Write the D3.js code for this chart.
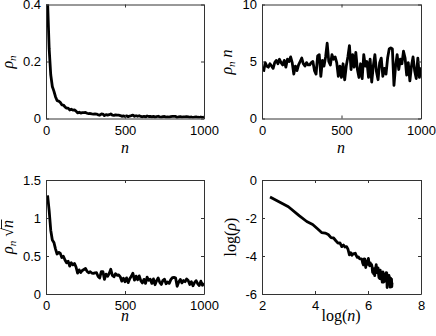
<!DOCTYPE html>
<html><head><meta charset="utf-8">
<script src="https://cdn.jsdelivr.net/npm/d3@7"></script>
<style>
html,body{margin:0;padding:0;background:#fff;}
svg{display:block;}
.tick text{font-family:"Liberation Sans",Arial,sans-serif;font-size:13px;fill:#000;}
.lab{font-family:"Liberation Serif","DejaVu Serif",serif;font-size:16px;fill:#000;}
</style>
</head><body>
<svg id="c" width="436" height="336"></svg>
<script>
// n values (sample index)
const nVals = [10,20,30,40,50,60,70,80,90,100,110,120,130,140,150,160,170,180,190,200,
210,220,230,240,250,260,270,280,290,300,310,320,330,340,350,360,370,380,390,400,
410,420,430,440,450,460,470,480,490,500,510,520,530,540,550,560,570,580,590,600,
610,620,630,640,650,660,670,680,690,700,710,720,730,740,750,760,770,780,790,800,
810,820,830,840,850,860,870,880,890,900,910,920,930,940,950,960,970,980,990,1000];
// rho_n * n
const rhoTimesN = [4.1,4.9,4.6,4.5,4.8,4.6,4.4,4.9,5.1,4.8,5.2,4.9,4.7,5.1,4.5,5.2,5.0,5.4,4.9,3.9,
4.6,4.2,4.7,5.0,5.3,4.8,4.6,4.9,4.7,4.7,4.9,5.0,4.2,3.9,5.5,5.6,3.7,5.1,4.6,5.4,
6.6,5.0,4.7,5.6,5.2,5.4,4.9,3.7,4.6,3.6,4.8,3.4,4.6,5.4,6.4,4.3,5.6,4.5,5.8,4.3,
3.6,4.8,3.5,5.6,4.6,5.0,3.6,5.2,3.2,4.6,5.6,4.1,3.4,4.9,5.3,3.7,4.4,3.9,5.3,6.1,
6.2,6.1,2.9,4.6,5.6,4.3,5.2,4.8,5.9,5.3,3.8,4.9,3.3,4.6,5.4,4.2,3.5,5.3,3.6,4.5];

// tick values
const xTicksN = [0,500,1000];
const yTicksRho = [0,0.2,0.4];
const yTicksRhoN = [0,5,10];
const yTicksRhoSqrt = [0,0.5,1,1.5];
const xTicksLog = [2,4,6,8];
const yTicksLog = [-6,-4,-2,0];

const svg = d3.select("#c");
const L = {x:[46,204], x2:[262,421], y:[4.5,118.5], y2:[180,294]};

const rhoSeries = nVals.map((n,i)=>({x:n, y:rhoTimesN[i]/n}));
const rhoNSeries = nVals.map((n,i)=>({x:n, y:rhoTimesN[i]}));
const rhoSqrtSeries = nVals.map((n,i)=>({x:n, y:rhoTimesN[i]/Math.sqrt(n)}));
const logSeries = nVals.map((n,i)=>({x:Math.log(n), y:Math.log(rhoTimesN[i]/n)}));

const fmt = d => String(d);

function panel(id, xr, yr, xdom, ydom, xt, yt, data){
  const x = d3.scaleLinear().domain(xdom).range(xr);
  const y = d3.scaleLinear().domain(ydom).range([yr[1], yr[0]]);
  const g = svg.append("g");
  g.append("clipPath").attr("id","clip"+id).append("rect")
    .attr("x",xr[0]).attr("y",yr[0]).attr("width",xr[1]-xr[0]).attr("height",yr[1]-yr[0]);
  g.append("path").datum(data)
    .attr("clip-path","url(#clip"+id+")")
    .attr("fill","none").attr("stroke","#000").attr("stroke-width",2.8)
    .attr("stroke-linejoin","round")
    .attr("d", d3.line().x(d=>x(d.x)).y(d=>y(d.y)));
  const styleAxis = a => {
    a.selectAll(".domain").attr("stroke","#333").attr("stroke-width",1);
    a.selectAll(".tick line").attr("stroke","#333");
  };
  g.append("g").attr("transform",`translate(0,${yr[1]})`)
    .call(d3.axisBottom(x).tickValues(xt).tickFormat(fmt).tickSizeInner(-3).tickSizeOuter(0).tickPadding(7))
    .call(styleAxis).call(a=>a.selectAll("text").attr("font-family",null).attr("font-size",null));
  g.append("g").attr("transform",`translate(0,${yr[0]})`)
    .call(d3.axisTop(x).tickValues(xt).tickFormat("").tickSizeInner(-3).tickSizeOuter(0))
    .call(styleAxis);
  g.append("g").attr("transform",`translate(${xr[0]},0)`)
    .call(d3.axisLeft(y).tickValues(yt).tickFormat(fmt).tickSizeInner(-3).tickSizeOuter(0).tickPadding(5))
    .call(styleAxis).call(a=>a.selectAll("text").attr("font-family",null).attr("font-size",null));
  g.append("g").attr("transform",`translate(${xr[1]},0)`)
    .call(d3.axisRight(y).tickValues(yt).tickFormat("").tickSizeInner(-3).tickSizeOuter(0))
    .call(styleAxis);
  svg.selectAll(".tick text").attr("fill","#000");
  return {x,y};
}

panel("a", L.x, L.y, [0,1000], [0,0.4], xTicksN, yTicksRho, rhoSeries);
panel("b", L.x2, L.y, [0,1000], [0,10], xTicksN, yTicksRhoN, rhoNSeries);
panel("c", L.x, L.y2, [0,1000], [0,1.5], xTicksN, yTicksRhoSqrt, rhoSqrtSeries);
panel("d", L.x2, L.y2, [2,8], [-6,0], xTicksLog, yTicksLog, logSeries);

// axis labels
function lab(cx, cy, parts, rot){
  const g = svg.append("g").attr("transform",`translate(${cx},${cy})` + (rot ? " rotate(-90)" : ""));
  const t = g.append("text").attr("class","lab").attr("x",0).attr("y",0).attr("text-anchor","middle");
  let idx = 0;
  const bars = [];
  parts.forEach(p=>{
    const s = t.append("tspan").text(p.t);
    if(p.i) s.attr("font-style","italic");
    if(p.sub) s.attr("font-size","11px").attr("baseline-shift","-25%");
    if(p.ol) bars.push([idx, idx + p.t.length - 1]);
    idx += p.t.length;
  });
  bars.forEach(([a,b])=>{
    const node = t.node();
    const x0 = node.getStartPositionOfChar(a).x - 1;
    const x1 = node.getEndPositionOfChar(b).x + 0.5;
    g.append("line").attr("x1",x0).attr("x2",x1).attr("y1",-11.5).attr("y2",-11.5)
      .attr("stroke","#000").attr("stroke-width",0.9);
  });
  return g;
}
lab(125, 153, [{t:"n",i:1}]);
lab(341, 153, [{t:"n",i:1}]);
lab(125, 321, [{t:"n",i:1}]);
lab(341, 321, [{t:"log("},{t:"n",i:1},{t:")"}]);

lab(13, 62, [{t:"ρ",i:1},{t:"n",i:1,sub:1}], 1);
lab(232, 62, [{t:"ρ",i:1},{t:"n",i:1,sub:1},{t:" "},{t:"n",i:1}], 1);
lab(13, 237, [{t:"ρ",i:1},{t:"n",i:1,sub:1},{t:" √"},{t:"n",i:1,ol:1}], 1);
lab(236, 237, [{t:"log("},{t:"ρ",i:1},{t:")"}], 1);
</script>
</body></html>
